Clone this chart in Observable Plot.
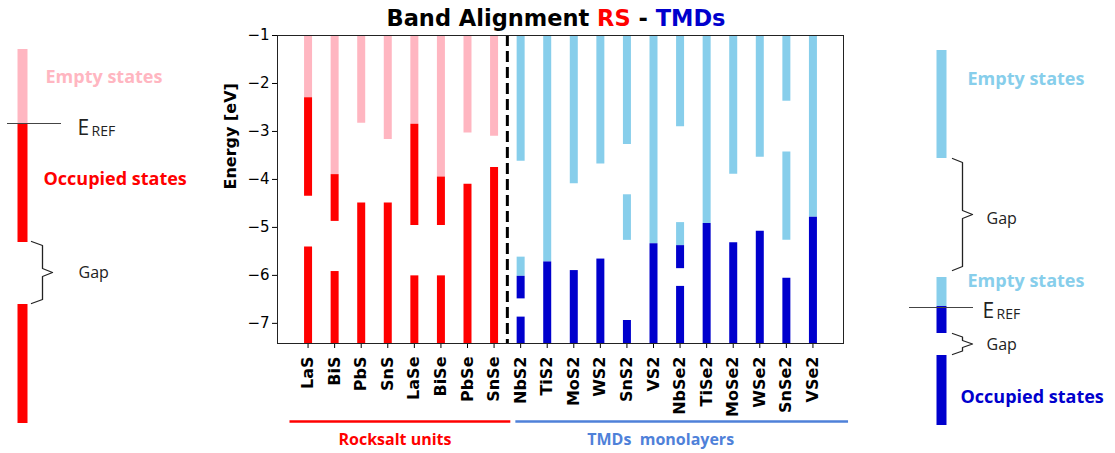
<!DOCTYPE html>
<html>
<head>
<meta charset="utf-8">
<script src="https://cdn.jsdelivr.net/npm/d3@7"></script>
<script src="https://cdn.jsdelivr.net/npm/@observablehq/plot@0.6"></script>
<style>
  html, body { margin: 0; padding: 0; background: #fff; }
  #wrap { position: relative; width: 1115px; height: 453px; overflow: hidden; background: #fff; }
  #main, #sketch { position: absolute; left: 0; top: 0; width: 1115px; height: 453px; }
  #main svg, #sketch svg { display: block; }
  #sketch { pointer-events: none; }
  #title { position: absolute; top: 7px; left: 0; width: 1112px; text-align: center;
           font: bold 22.5px/22px "DejaVu Sans"; color: #000; white-space: pre; }
</style>
</head>
<body>
<div id="wrap">
  <div id="main"></div>
  <div id="sketch"></div>
  <div id="title">Band Alignment <span style="color:#FF0000">RS</span> - <span style="color:#0000CD">TMDs</span></div>
</div>
<script>
// ---------------- data ----------------
const compounds = ["LaS","BiS","PbS","SnS","LaSe","BiSe","PbSe","SnSe",
                   "NbS2","TiS2","MoS2","WS2","SnS2","VS2","NbSe2","TiSe2","MoSe2","WSe2","SnSe2","VSe2"];
const rocksalt = ["LaS","BiS","PbS","SnS","LaSe","BiSe","PbSe","SnSe"];
const yTicks = [-1, -2, -3, -4, -5, -6, -7];
const yLimits = [-7.42, -1];

// empty states: [compound, top energy, bottom energy] (eV)
const emptyStates = [
  ["LaS", -1, -2.30], ["BiS", -1, -3.90], ["PbS", -1, -2.83], ["SnS", -1, -3.17],
  ["LaSe", -1, -2.85], ["BiSe", -1, -3.95], ["PbSe", -1, -3.03], ["SnSe", -1, -3.10],
  ["NbS2", -1, -3.62], ["NbS2", -5.62, -6.02],
  ["TiS2", -1, -5.72], ["MoS2", -1, -4.09], ["WS2", -1, -3.68],
  ["SnS2", -1, -3.27], ["SnS2", -4.32, -5.27],
  ["VS2", -1, -5.34],
  ["NbSe2", -1, -2.90], ["NbSe2", -4.90, -5.38],
  ["TiSe2", -1, -4.92], ["MoSe2", -1, -3.89], ["WSe2", -1, -3.54],
  ["SnSe2", -1, -2.37], ["SnSe2", -3.43, -5.27],
  ["VSe2", -1, -4.79]
];
// occupied states: [compound, top energy, bottom energy] (eV)
const occupiedStates = [
  ["LaS", -2.30, -4.35], ["LaS", -5.41, -7.42],
  ["BiS", -3.90, -4.875], ["BiS", -5.92, -7.42],
  ["PbS", -4.49, -7.42], ["SnS", -4.49, -7.42],
  ["LaSe", -2.85, -4.96], ["LaSe", -6.01, -7.42],
  ["BiSe", -3.95, -4.96], ["BiSe", -6.01, -7.42],
  ["PbSe", -4.10, -7.42], ["SnSe", -3.75, -7.42],
  ["NbS2", -6.02, -6.49], ["NbS2", -6.87, -7.42],
  ["TiS2", -5.72, -7.42], ["MoS2", -5.90, -7.42], ["WS2", -5.66, -7.42],
  ["SnS2", -6.94, -7.42], ["VS2", -5.34, -7.42],
  ["NbSe2", -5.38, -5.86], ["NbSe2", -6.23, -7.42],
  ["TiSe2", -4.92, -7.42], ["MoSe2", -5.32, -7.42], ["WSe2", -5.08, -7.42],
  ["SnSe2", -6.06, -7.42], ["VSe2", -4.79, -7.42]
];
const groupNames = ["Rocksalt units", "TMDs  monolayers"];
const groupSpans = [[-0.68, 7.63], [7.82, 20.34]];   // in compound-index units
const groupLabelAt = [3.27, 13.27];
const groupColors = ["#FF0000", "#4F81D9"];

const colors = {RS: {empty: "#FFB6C1", occupied: "#FF0000"}, TMD: {empty: "#87CEEB", occupied: "#0000CD"}};

// ---------------- build table ----------------
const idx = new Map(compounds.map((c, i) => [c, i]));
const fam = c => rocksalt.includes(c) ? "RS" : "TMD";
const segs = [
  ...emptyStates.map(([c, a, b]) => ({c, i: idx.get(c), top: a, bot: b, color: colors[fam(c)].empty})),
  ...occupiedStates.map(([c, a, b]) => ({c, i: idx.get(c), top: a, bot: b, color: colors[fam(c)].occupied}))
];
const groups = groupNames.map((name, k) => ({name, x1: groupSpans[k][0], x2: groupSpans[k][1], at: groupLabelAt[k], color: groupColors[k]}));
const sep = rocksalt.length - 0.5;

const main = Plot.plot({
  width: 1115, height: 453,
  marginLeft: 277, marginRight: 272, marginTop: 35, marginBottom: 110,
  style: {fontFamily: "DejaVu Sans", fontSize: "15px", background: "transparent", overflow: "visible"},
  x: {type: "linear", domain: [-1.15, 20.15]},
  y: {domain: yLimits},
  marks: [
    Plot.ruleX(segs, {x: "i", y1: "top", y2: "bot", stroke: "color", strokeWidth: 8}),
    Plot.ruleX([sep], {stroke: "#000", strokeWidth: 3, strokeDasharray: "11,5"}),
    Plot.axisY({ticks: yTicks, tickFormat: d3.format("d"), tickSize: 5, tickPadding: 3, label: null, fontSize: 15}),
    Plot.text(["Energy [eV]"], {frameAnchor: "left", dx: -47, rotate: -90, fontWeight: "bold", fontSize: 16, fill: "#000"}),
    Plot.axisX({ticks: d3.range(compounds.length), tickFormat: i => compounds[i], tickRotate: -90,
                fontWeight: "bold", fontSize: 16, tickSize: 5, tickPadding: 8, label: null}),
    Plot.ruleY(groups, {y: () => yLimits[0], x1: "x1", x2: "x2", stroke: "color", strokeWidth: 2.5, dy: 78}),
    Plot.text(groups, {x: "at", frameAnchor: "bottom", dy: 101, text: "name", fill: "color",
                       fontWeight: "bold", fontSize: 16, fontFamily: "Open Sans"}),
    Plot.frame({stroke: "#222", strokeWidth: 1})
  ]
});
document.getElementById("main").appendChild(main);

// ---------------- schematic legends (sketch units) ----------------
const sketchBars = [
  {x: 22, y1: 49, y2: 123, color: colors.RS.empty},
  {x: 22, y1: 123, y2: 242, color: colors.RS.occupied},
  {x: 22, y1: 304, y2: 423, color: colors.RS.occupied},
  {x: 941, y1: 50, y2: 158, color: colors.TMD.empty},
  {x: 941, y1: 277, y2: 306, color: colors.TMD.empty},
  {x: 941, y1: 306, y2: 333, color: colors.TMD.occupied},
  {x: 941, y1: 355, y2: 425, color: colors.TMD.occupied}
];
const sketchRefLines = [{x1: 7, x2: 61, y: 123}, {x1: 909, x2: 973, y: 307}];
const sketchBraces = [
  {x0: 31, x1: 42, x2: 52, y1: 241, y2: 303},
  {x0: 952, x1: 962, x2: 972, y1: 158, y2: 270},
  {x0: 952, x1: 962, x2: 972, y1: 333, y2: 354}
];
const sketchBold = [
  {text: "Empty states", x: 45, y: 77, fill: colors.RS.empty},
  {text: "Occupied states", x: 43, y: 179, fill: colors.RS.occupied},
  {text: "Empty states", x: 967, y: 79, fill: colors.TMD.empty},
  {text: "Empty states", x: 967, y: 281, fill: colors.TMD.empty},
  {text: "Occupied states", x: 960, y: 397, fill: colors.TMD.occupied}
];
const sketchGap = [{x: 78, y: 272}, {x: 986, y: 218}, {x: 986, y: 344}];
const sketchE = [{x: 77, y: 128}, {x: 982, y: 311}];
const sketchREF = [{x: 91, y: 131}, {x: 996, y: 314}];

const bracePts = sketchBraces.flatMap((b, k) => {
  const ym = (b.y1 + b.y2) / 2, r = Math.min(4, (b.y2 - b.y1) / 6);
  return [[b.x0, b.y1], [b.x1, b.y1 + r], [b.x1, ym - r], [b.x2, ym], [b.x1, ym + r], [b.x1, b.y2 - r], [b.x0, b.y2]]
    .map(([x, y]) => ({k, x, y}));
});

const sketch = Plot.plot({
  width: 1115, height: 453, margin: 0,
  style: {background: "transparent", fontFamily: "Open Sans", overflow: "visible"},
  x: {domain: [0, 1115], range: [0, 1115], axis: null},
  y: {domain: [0, 453], range: [0, 453], axis: null},
  marks: [
    Plot.ruleX(sketchBars, {x: "x", y1: "y1", y2: "y2", stroke: "color", strokeWidth: 10}),
    Plot.ruleY(sketchRefLines, {y: "y", x1: "x1", x2: "x2", stroke: "#444", strokeWidth: 1}),
    Plot.line(bracePts, {x: "x", y: "y", z: "k", stroke: "#222", strokeWidth: 1.3, curve: "linear"}),
    Plot.text(sketchBold, {x: "x", y: "y", text: "text", fill: "fill", textAnchor: "start", fontWeight: "bold", fontSize: 18}),
    Plot.text(sketchGap, {x: "x", y: "y", text: () => "Gap", fill: "#222", textAnchor: "start", fontSize: 16}),
    Plot.text(sketchE, {x: "x", y: "y", text: () => "E", fill: "#222", textAnchor: "start", fontSize: 21}),
    Plot.text(sketchREF, {x: "x", y: "y", text: () => "REF", fill: "#222", textAnchor: "start", fontSize: 14})
  ]
});
document.getElementById("sketch").appendChild(sketch);
</script>
</body>
</html>
